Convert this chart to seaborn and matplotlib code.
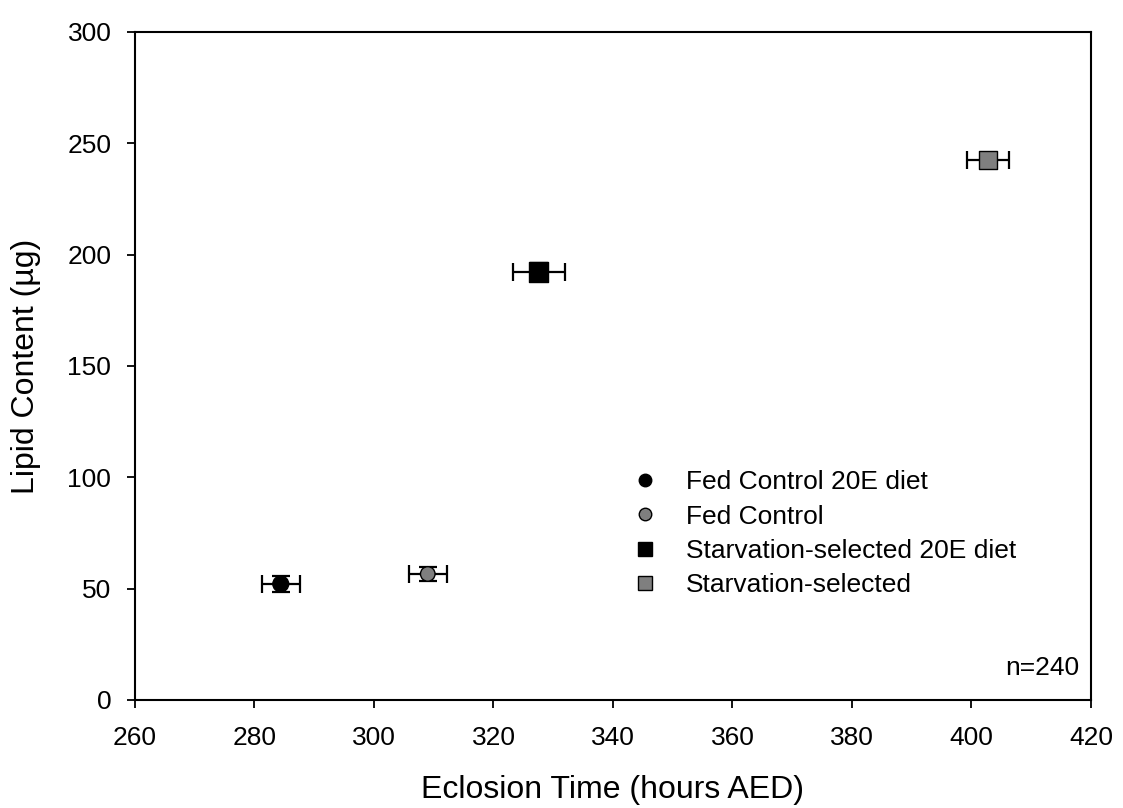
import matplotlib
matplotlib.use("Agg")
import matplotlib.pyplot as plt
import seaborn as sns
import pandas as pd
from matplotlib.lines import Line2D

# Mean eclosion time and lipid content per treatment group, with SE
groups = ["Fed Control 20E diet", "Fed Control",
          "Starvation-selected 20E diet", "Starvation-selected"]
eclosion_hours = [284.4, 309.0, 327.6, 402.8]
eclosion_se = [3.2, 3.2, 4.4, 3.5]
lipid_ug = [52.1, 56.6, 192.2, 242.5]
lipid_se = [3.5, 3.0, 4.0, 3.0]

x_ticks = [260, 280, 300, 320, 340, 360, 380, 400, 420]
y_ticks = [0, 50, 100, 150, 200, 250, 300]

colors = {groups[0]: "#000000", groups[1]: "#7f7f7f",
          groups[2]: "#000000", groups[3]: "#7f7f7f"}
markers = {groups[0]: "o", groups[1]: "o", groups[2]: "s", groups[3]: "s"}
sizes = {groups[0]: 130, groups[1]: 110, groups[2]: 190, groups[3]: 170}

df = pd.DataFrame({"group": groups, "time": eclosion_hours,
                   "xerr": eclosion_se, "lipid": lipid_ug, "yerr": lipid_se})

sns.set_style("ticks")
plt.rcParams["font.family"] = ["Liberation Sans", "DejaVu Sans"]
plt.rcParams["text.color"] = "black"
plt.rcParams["axes.labelcolor"] = "black"

fig = plt.figure(figsize=(11.23, 8.08), dpi=100)
ax = fig.add_axes([0.1202, 0.1337, 0.8513, 0.8267])

for _, r in df.iterrows():
    ax.errorbar(r["time"], r["lipid"], xerr=r["xerr"], yerr=r["yerr"],
                fmt="none", ecolor="black", elinewidth=1.6, capsize=6.5,
                capthick=1.6, zorder=2)

sns.scatterplot(data=df, x="time", y="lipid", hue="group", style="group",
                size="group", sizes=sizes, palette=colors, markers=markers,
                edgecolor="black", linewidth=1.0, ax=ax, zorder=3, legend=False)

# Legend entries
handles = [Line2D([], [], linestyle="none", marker=markers[g],
                  markerfacecolor=colors[g], markeredgecolor="black",
                  markersize=9 if markers[g] == "o" else 10) for g in groups]
leg = ax.legend(handles, groups, loc="lower left",
                bbox_to_anchor=(0.506, 0.1385), frameon=False, fontsize=19,
                handletextpad=0.95, labelspacing=0.385, borderaxespad=0,
                handlelength=1.2, labelcolor="black")

ax.text(0.988, 0.030, "n=240", transform=ax.transAxes, ha="right", va="bottom",
        fontsize=19, color="black")

ax.set_xlim(260, 420)
ax.set_ylim(0, 300)
ax.set_xticks(x_ticks)
ax.set_yticks(y_ticks)
ax.tick_params(axis="both", direction="out", length=6, width=1.3,
               labelsize=19, colors="black")
ax.tick_params(axis="y", pad=11)
ax.tick_params(axis="x", pad=13)
for s in ax.spines.values():
    s.set_linewidth(1.5)
    s.set_color("black")

ax.set_xlabel("Eclosion Time (hours AED)", fontsize=23, labelpad=18)
ax.set_ylabel("Lipid Content (µg)", fontsize=23, labelpad=19)

fig.savefig("out.png", dpi=100, facecolor="white")
